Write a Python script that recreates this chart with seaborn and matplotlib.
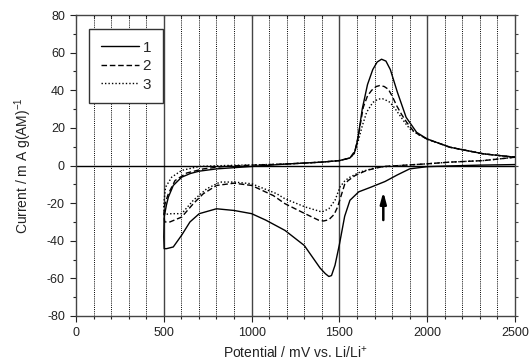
import matplotlib
matplotlib.use("Agg")
import matplotlib.pyplot as plt
import seaborn as sns
import numpy as np
import pandas as pd
from matplotlib.ticker import MultipleLocator, NullFormatter

# ---------------- data ----------------
labels = ["1", "2", "3"]

# curve 1 (solid): cathodic sweep then anodic sweep
c1_v = [2500, 2300, 2100, 2000, 1900, 1830, 1760, 1680, 1610, 1560, 1530, 1500,
        1475, 1455, 1440, 1420, 1390, 1300, 1190, 1080, 1000, 900, 800, 702,
        649, 602, 554, 516, 502,
        500, 502, 515, 526, 554, 602, 650, 702, 801, 1000, 1200, 1400, 1500,
        1560, 1585, 1605, 1630, 1660, 1690, 1715, 1740, 1765, 1790, 1830, 1880,
        1940, 2000, 2130, 2320, 2500]
c1_i = [0.5, 0.2, -0.3, -0.6, -1.8, -5.0, -8.5, -11.5, -14.0, -18.5, -27.0, -42.0,
        -53.0, -58.5, -59.0, -57.5, -54.5, -42.5, -34.5, -29.0, -25.6, -23.9, -23.0, -25.6,
        -30.0, -37.0, -43.3, -44.2, -44.2,
        -38.0, -27.4, -21.0, -16.8, -10.6, -6.2, -4.3, -3.0, -1.8, -0.5, 0.8, 1.8, 2.6,
        4.0, 6.5, 14.0, 30.0, 43.0, 51.0, 55.0, 56.5, 55.5, 51.0, 39.0, 25.6,
        17.6, 14.1, 9.7, 6.2, 4.4]

# curve 2 (dashed)
c2_v = [2500, 2320, 2130, 2000, 1845, 1750, 1655, 1590, 1550, 1530, 1510, 1490,
        1470, 1440, 1410, 1380, 1304, 1190, 1124, 1000, 900, 801, 725, 668,
        602, 535, 505,
        500, 505, 515, 526, 564, 630, 725, 850, 1000, 1200, 1400, 1500, 1560,
        1590, 1610, 1636, 1660, 1684, 1710, 1730, 1755, 1779, 1800, 1826, 1855,
        1883, 1920, 1950, 2000, 2130, 2320, 2500]
c2_i = [4.4, 2.6, 1.8, 0.9, 0.0, -0.5, -2.6, -5.3, -8.0, -10.0, -16.0, -22.0,
        -26.0, -28.8, -29.5, -29.0, -25.6, -20.3, -16.0, -10.6, -9.4, -10.6, -15.0, -20.3,
        -27.4, -30.0, -30.0,
        -26.0, -21.0, -18.0, -15.0, -8.0, -4.0, -1.8, -0.4, 0.2, 0.8, 1.8, 2.6, 4.0,
        8.0, 17.0, 31.0, 37.0, 40.0, 42.0, 42.5, 42.0, 40.5, 37.0, 31.8, 27.0,
        23.0, 18.5, 16.5, 14.0, 9.7, 6.2, 4.4]

# curve 3 (dotted)
c3_v = [2500, 2320, 2130, 2000, 1845, 1712, 1617, 1560, 1532, 1503, 1475, 1440,
        1400, 1304, 1190, 1143, 1000, 900, 820, 744, 668, 602, 545, 505,
        500, 502, 510, 545, 602, 702, 850, 1000, 1200, 1400, 1500, 1560,
        1585, 1608, 1630, 1655, 1690, 1720, 1745, 1770, 1788, 1815, 1845, 1875,
        1902, 1950, 2000, 2130, 2320, 2500]
c3_i = [4.4, 2.6, 1.8, 0.9, 0.0, -1.0, -3.5, -6.2, -8.0, -11.5, -18.5, -23.0,
        -24.7, -22.0, -17.7, -15.0, -9.7, -8.8, -8.8, -12.4, -18.5, -25.6, -25.6, -26.0,
        -22.0, -18.5, -11.5, -6.2, -2.6, -0.5, 0.0, 0.3, 0.8, 1.8, 2.6, 4.0,
        6.5, 13.2, 21.0, 28.3, 33.5, 35.3, 35.5, 34.5, 33.6, 30.5, 26.5, 22.5,
        19.4, 16.5, 14.0, 9.7, 6.2, 4.4]

curves_v = [c1_v, c2_v, c3_v]
curves_i = [c1_i, c2_i, c3_i]

x_ticks = [0, 500, 1000, 1500, 2000, 2500]
y_ticks = [-80, -60, -40, -20, 0, 20, 40, 60, 80]
arrow_v = 1750
arrow_from = -29
arrow_to = -14

# ---------------- style ----------------
sns.set_theme(style="ticks")
plt.rcParams["font.family"] = ["Liberation Sans", "DejaVu Sans"]
plt.rcParams["mathtext.fontset"] = "custom"
plt.rcParams["mathtext.rm"] = "Liberation Sans"
plt.rcParams["mathtext.it"] = "Liberation Sans:italic"
plt.rcParams["axes.unicode_minus"] = False

fig = plt.figure(figsize=(5.30, 3.63), dpi=100)
ax = fig.add_axes([76 / 530, 1 - 316 / 363, 439 / 530, 301 / 363])

# grid: dotted every 100, solid every 500
for v in range(100, 2500, 100):
    if v % 500 == 0:
        ax.axvline(v, color="#444444", lw=1.0, zorder=1)
    else:
        ax.axvline(v, color="black", lw=0.7, ls=(0, (1, 1.2)), zorder=1)
ax.axhline(0, color="black", lw=1.0, zorder=1)

styles = ["-", (0, (4, 2)), (0, (1, 1.5))]
for lab, v, i, ls in zip(labels, curves_v, curves_i, styles):
    df = pd.DataFrame({"v": v, "i": i})
    sns.lineplot(data=df, x="v", y="i", sort=False, estimator=None,
                 color="black", lw=1.0, linestyle=ls, label=lab, ax=ax, zorder=3)

ax.annotate("", xy=(arrow_v, arrow_to), xytext=(arrow_v, arrow_from),
            arrowprops=dict(arrowstyle="-|>,head_width=0.15,head_length=0.55",
                            color="black", lw=1.8, shrinkA=0, shrinkB=0), zorder=4)

ax.set_xlim(0, 2500)
ax.set_ylim(-80, 80)
ax.set_xticks(x_ticks)
ax.set_yticks(y_ticks)
ax.xaxis.set_minor_locator(MultipleLocator(100))
ax.yaxis.set_minor_locator(MultipleLocator(10))
ax.tick_params(which="major", direction="out", length=4, width=0.8, labelsize=9,
               colors="#222222", right=False, top=False, pad=4)
ax.tick_params(which="minor", direction="out", length=2.5, width=0.8,
               colors="#222222", right=False, top=False)
for s in ax.spines.values():
    s.set_color("#444444")
    s.set_linewidth(1.0)

# small ticks on the top (inward) and right (outward) edges
top = ax.secondary_xaxis("top")
top.set_xticks(np.arange(0, 2501, 100))
top.tick_params(direction="in", length=2.5, width=0.8, colors="#444444", labeltop=False)
top.xaxis.set_major_formatter(NullFormatter())
right = ax.secondary_yaxis("right")
right.set_yticks(np.arange(-80, 81, 10))
right.tick_params(direction="out", length=2, width=0.8, colors="#444444", labelright=False)
right.yaxis.set_major_formatter(NullFormatter())
for sec in (top, right):
    for s in sec.spines.values():
        s.set_visible(False)

ax.set_xlabel(r"Potential / mV vs. Li/Li$^{+}$", fontsize=10, labelpad=4, color="#222222")
ax.set_ylabel(r"Current / m A g(AM)$^{-1}$", fontsize=10, labelpad=9, color="#222222")

leg = ax.legend(loc="upper left", bbox_to_anchor=(0.03, 0.953), fontsize=11,
                frameon=True, fancybox=False, handlelength=2.5, handletextpad=0.25,
                labelspacing=0.3, borderpad=0.75, borderaxespad=0)
leg.get_frame().set_edgecolor("#333333")
leg.get_frame().set_linewidth(1.0)
leg.get_frame().set_alpha(1)

fig.savefig("out.png", dpi=100)
